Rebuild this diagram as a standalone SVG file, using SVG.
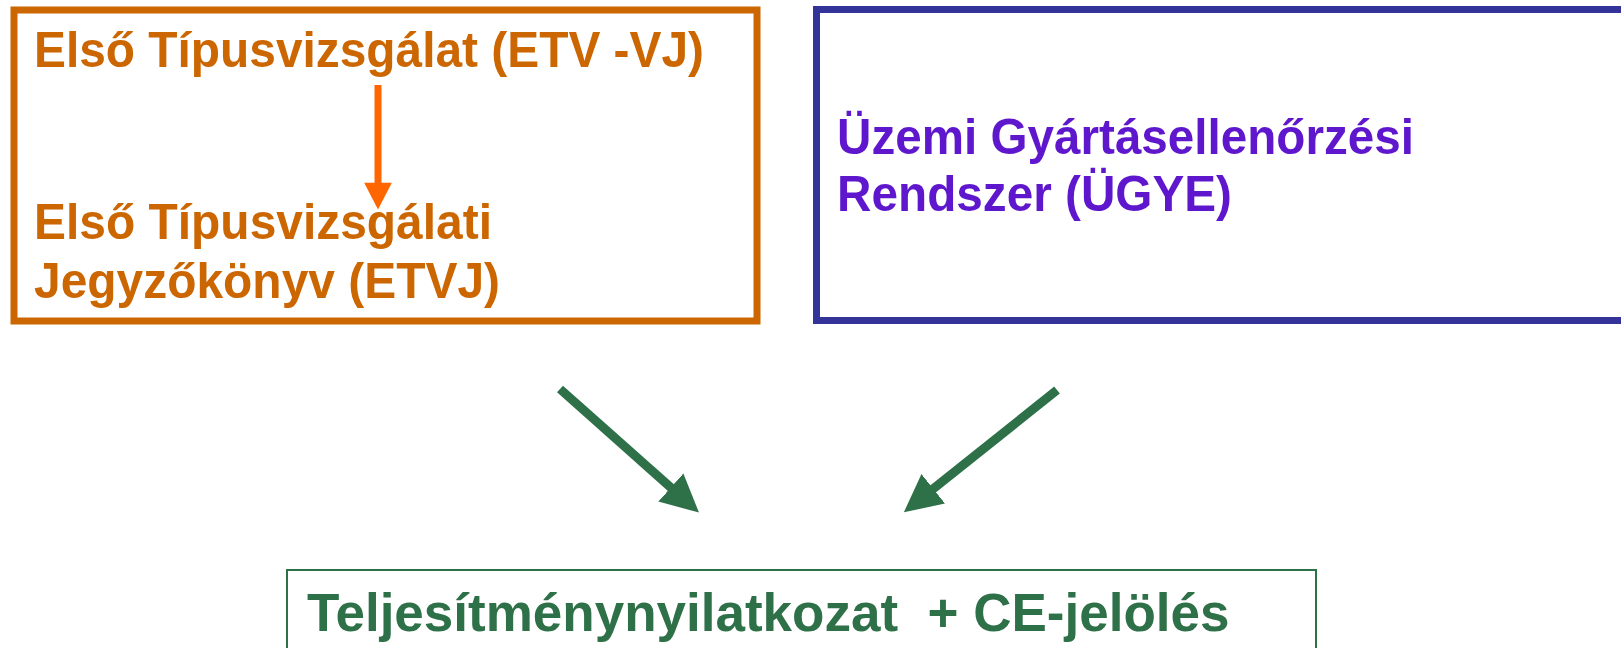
<svg xmlns="http://www.w3.org/2000/svg" width="1621" height="648" viewBox="0 0 1621 648">
  <style>
    .t { font-family: "Liberation Sans", Arial, sans-serif; font-weight: bold; }
    .orange { fill: #CC6600; font-size: 50px; }
    .purple { fill: #5E17CC; font-size: 50px; }
    .green { fill: #2E7048; font-size: 53px; }
  </style>
  <defs>
    <marker id="headOrange" markerUnits="userSpaceOnUse" markerWidth="30" markerHeight="30" refX="1" refY="0" viewBox="0 -13 25 26" orient="auto">
      <path d="M0,-12 L23,0 L0,12 z" fill="#FF6600"/>
    </marker>
    <marker id="headGreen" markerUnits="userSpaceOnUse" markerWidth="40" markerHeight="40" refX="2" refY="0" viewBox="0 -17 34 34" orient="auto">
      <path d="M0,-16 L32,0 L0,16 z" fill="#2E7048"/>
    </marker>
  </defs>
  <rect width="1621" height="648" fill="#FFFFFF"/>

  <g id="node-etv">
    <rect x="14" y="10" width="743" height="311" fill="none" stroke="#CC6600" stroke-width="7"/>
    <text class="t orange" x="34" y="67" textLength="670" lengthAdjust="spacingAndGlyphs">Első Típusvizsgálat (ETV -VJ)</text>
    <text class="t orange" x="34" y="239" textLength="458" lengthAdjust="spacingAndGlyphs">Első Típusvizsgálati</text>
    <text class="t orange" x="34" y="298" textLength="466" lengthAdjust="spacingAndGlyphs">Jegyzőkönyv (ETVJ)</text>
  </g>

  <g id="node-ugye">
    <rect x="816.5" y="9.5" width="900" height="311" fill="none" stroke="#333399" stroke-width="7"/>
    <text class="t purple" x="837" y="154" textLength="577" lengthAdjust="spacingAndGlyphs">Üzemi Gyártásellenőrzési</text>
    <text class="t purple" x="837" y="211" textLength="395" lengthAdjust="spacingAndGlyphs">Rendszer (ÜGYE)</text>
  </g>

  <g id="node-ce">
    <rect x="287" y="570" width="1029" height="100" fill="none" stroke="#2E7048" stroke-width="2"/>
    <text class="t green" x="307" y="631" xml:space="preserve">Teljesítménynyilatkozat  + CE-jelölés</text>
  </g>

  <g id="connectors">
    <line x1="378" y1="85" x2="378" y2="184" stroke="#FF6600" stroke-width="7" marker-end="url(#headOrange)"/>
    <line x1="560" y1="389" x2="672.6" y2="489.1" stroke="#2E7048" stroke-width="9" marker-end="url(#headGreen)"/>
    <line x1="1057" y1="390" x2="931.4" y2="490.3" stroke="#2E7048" stroke-width="9" marker-end="url(#headGreen)"/>
  </g>
</svg>
